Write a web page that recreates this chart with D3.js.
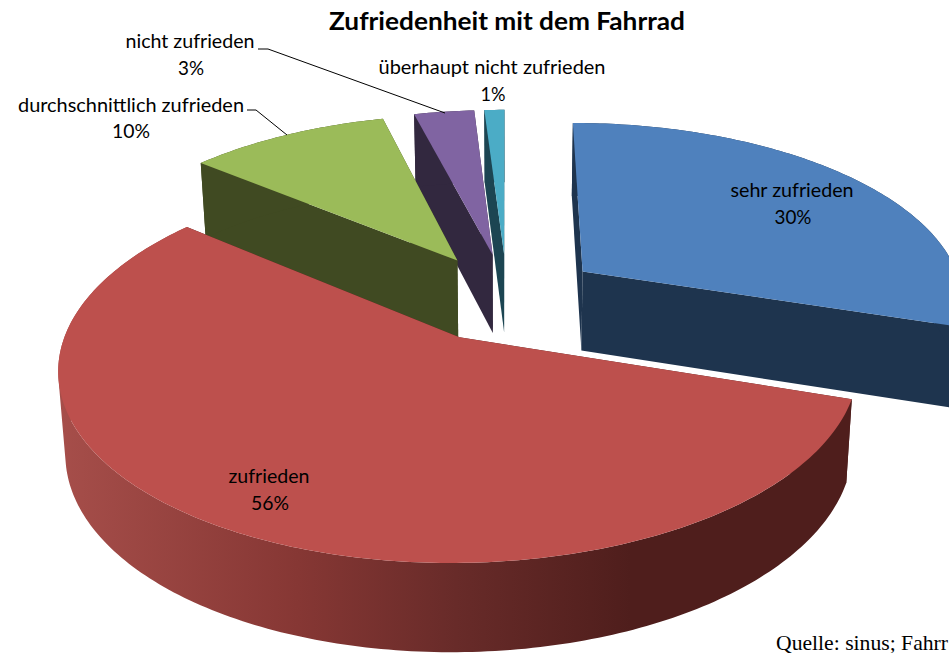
<!DOCTYPE html>
<html><head><meta charset="utf-8">
<script src="https://cdn.jsdelivr.net/npm/d3@7/dist/d3.min.js"></script>
<style>html,body{margin:0;padding:0;background:#fff;overflow:hidden}svg{display:block}text{font-family:Lato,"Open Sans",sans-serif;fill:#000}</style>
</head><body>
<svg id="c" width="949" height="653"></svg>
<script>
const categories = ["sehr zufrieden","zufrieden","durchschnittlich zufrieden","nicht zufrieden","überhaupt nicht zufrieden"];
const values = [30,56,10,3,1];
const topColors = ["#4f81bd","#bd504d","#9bbb59","#8064a2","#4bacc6"];
const sideColors = ["#1e344e","url(#redSide)","#404a22","#32283f","#1c4552"];
const drawOrder = [4,3,2,0,1];

const cx=507, cy=297, A=382, B=178, k=0.151, H3=80, kH=0.085, explode=0.25, squeeze=0.984;
const svg=d3.select("#c");
const defs=svg.append("defs");
const g=defs.append("linearGradient").attr("id","redSide").attr("gradientUnits","userSpaceOnUse").attr("x1",60).attr("x2",853).attr("y1",0).attr("y2",0);
[[0,"#a64e4a"],[0.3,"#863734"],[0.5,"#682b29"],[0.72,"#4f1e1c"],[1,"#4f1e1c"]].forEach(s=>g.append("stop").attr("offset",s[0]).attr("stop-color",s[1]));

const pie=d3.pie().sort(null).value(d=>d);
const arcs=pie(values);
function project(a,r,mid,low){
  const X=r*Math.sin(a)+explode*Math.sin(mid), Y=r*Math.cos(a)+explode*Math.cos(mid);
  const w=1+k*Y;
  let sx=cx+A*X/w, sy=cy-B*Y/w;
  if(low){sy+=H3/(1+kH*Y); sx=cx+(sx-cx)*squeeze;}
  return [sx,sy];
}
const line=d3.line();
function arcPts(d,low){
  const mid=(d.startAngle+d.endAngle)/2, n=Math.max(4,Math.ceil((d.endAngle-d.startAngle)*60));
  return d3.range(n+1).map(i=>project(d.startAngle+(d.endAngle-d.startAngle)*i/n,1,mid,low));
}
function quad(p){ return line(d3.polygonArea(p)<0 ? p.slice().reverse() : p)+"Z"; }
drawOrder.forEach(i=>{
  const d=arcs[i], mid=(d.startAngle+d.endAngle)/2;
  const top=arcPts(d,false), low=arcPts(d,true);
  const c0=project(0,0,mid,false), c1=project(0,0,mid,true);
  const side=sideColors[i];
  const gr=svg.append("g");
  gr.append("path").attr("d",line([c0,top[top.length-1],low[low.length-1],c1])+"Z").attr("fill",i==1?"#4f1e1c":side);
  gr.append("path").attr("d",line([c0,top[0],low[0],c1])+"Z").attr("fill",i==1?"#4f1e1c":side);
  const wall=d3.range(top.length-1).map(j=>quad([top[j],top[j+1],low[j+1],low[j]])).join("");
  gr.append("path").attr("d",wall).attr("fill",side);
  gr.append("path").attr("d",line([c0].concat(top))+"Z").attr("fill",topColors[i]);
});

const lead=d3.line();
svg.append("path").attr("d",lead([[258,49],[268,49],[445,113]])).attr("fill","none").attr("stroke","#000").attr("stroke-width",1);
svg.append("path").attr("d",lead([[247,110],[256,110],[287,135]])).attr("fill","none").attr("stroke","#000").attr("stroke-width",1);

function label(t,x,y,len,size,bold){
  const e=svg.append("text").attr("x",x).attr("y",y).attr("text-anchor","middle").attr("font-size",size).text(t);
  if(bold)e.attr("font-weight",700);
  if(len)e.attr("textLength",len).attr("lengthAdjust","spacingAndGlyphs");
  return e;
}
label("Zufriedenheit mit dem Fahrrad",507,30,356,24,true);
const pct=v=>v+"%";
const fs=19;
label(categories[3],190,48,129,fs); label(pct(values[3]),191,75,26,fs);
label(categories[4],492,74,227,fs); label(pct(values[4]),493,101,25,fs);
label(categories[2],131,112,226,fs); label(pct(values[2]),131,138,38,fs);
label(categories[0],792,197,123,fs); label(pct(values[0]),793,224,37,fs);
label(categories[1],269,483,81,fs); label(pct(values[1]),270,510,38,fs);
svg.append("text").attr("x",776).attr("y",650).attr("font-size",21).attr("textLength",172).attr("lengthAdjust","spacingAndGlyphs").style("font-family","'Liberation Serif',serif").text("Quelle: sinus; Fahrr");
</script>
</body></html>
